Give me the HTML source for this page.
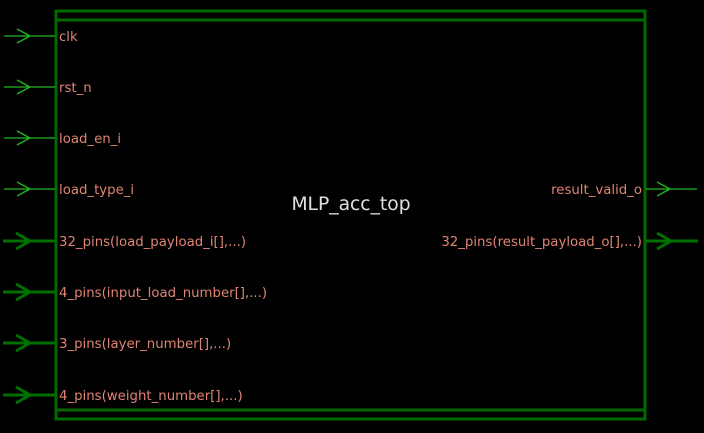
<!DOCTYPE html>
<html><head><style>body{margin:0;background:#000}</style></head><body>
<svg width="704" height="433" xmlns="http://www.w3.org/2000/svg" style="display:block">
<rect width="704" height="433" fill="#000"/>
<g stroke="#006a00" stroke-width="3" fill="none">
<rect x="56" y="11" width="589" height="408"/>
<line x1="56" y1="20" x2="645" y2="20"/>
<line x1="56" y1="410" x2="645" y2="410"/>
</g>
<g stroke="#22b822" stroke-width="1.3" fill="none">
<path d="M4 36H55M17 29L30 36L17 43"/>
<path d="M4 87H55M17 80L30 87L17 94"/>
<path d="M4 138H55M17 131L30 138L17 145"/>
<path d="M4 189H55M17 182L30 189L17 196"/>
<path d="M646 189H697M657 182L670 189L657 196"/>
</g>
<g stroke="#007000" stroke-width="3" fill="none">
<path d="M3 241H55M16 233L30 241L16 249"/>
<path d="M3 292H55M16 284L30 292L16 300"/>
<path d="M3 343H55M16 335L30 343L16 351"/>
<path d="M3 395H55M16 387L30 395L16 403"/>
<path d="M646 241H698M657 233L671 241L657 249"/>
</g>
<g font-family="DejaVu Sans, sans-serif" font-size="13.3" fill="#e08474">
<text x="59" y="41">clk</text>
<text x="59" y="92">rst_n</text>
<text x="59" y="143">load_en_i</text>
<text x="59" y="194">load_type_i</text>
<text x="59" y="246">32_pins(load_payload_i[],...)</text>
<text x="59" y="297">4_pins(input_load_number[],...)</text>
<text x="59" y="348">3_pins(layer_number[],...)</text>
<text x="59" y="400">4_pins(weight_number[],...)</text>
<text x="642" y="194" text-anchor="end">result_valid_o</text>
<text x="642" y="246" text-anchor="end">32_pins(result_payload_o[],...)</text>
</g>
<text x="351" y="210" text-anchor="middle" font-family="DejaVu Sans, sans-serif" font-size="18.7" fill="#e0e0e0">MLP_acc_top</text>
</svg>
</body></html>
